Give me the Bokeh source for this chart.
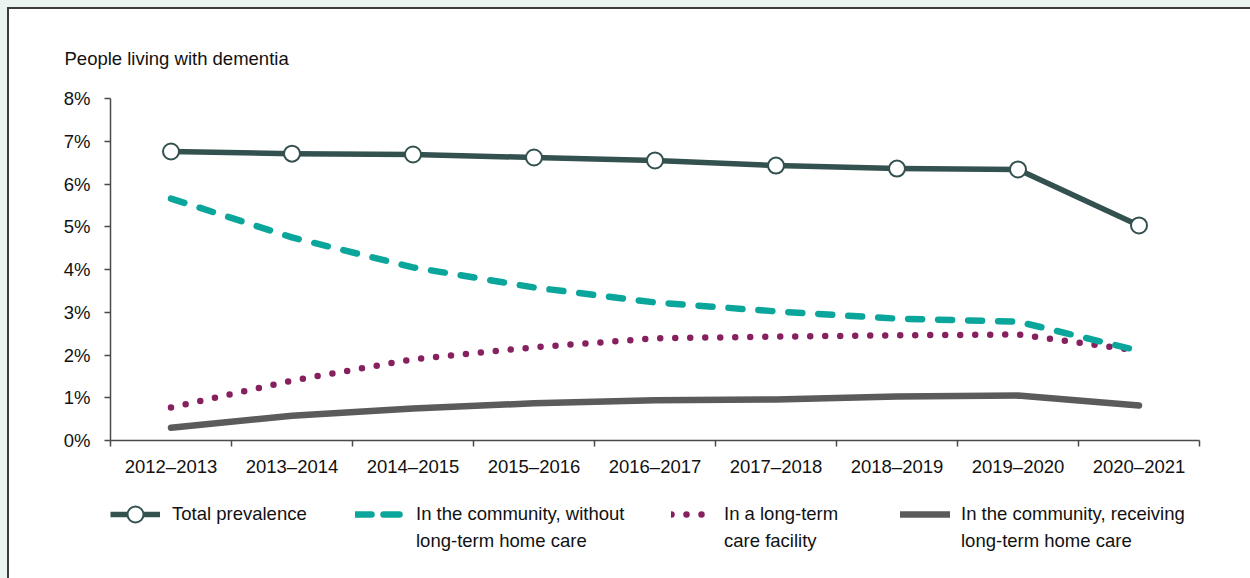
from bokeh.plotting import figure
from bokeh.layouts import column
from bokeh.models import FixedTicker, Range1d, Legend, LegendItem, ColumnDataSource
from bokeh.embed import file_html
from bokeh.resources import INLINE

years = ["2012–2013", "2013–2014", "2014–2015", "2015–2016", "2016–2017",
         "2017–2018", "2018–2019", "2019–2020", "2020–2021"]
total = [6.76, 6.71, 6.69, 6.62, 6.55, 6.43, 6.36, 6.34, 5.03]
community_no_care = [5.66, 4.75, 4.05, 3.58, 3.23, 3.02, 2.85, 2.78, 2.10]
ltc_facility = [0.77, 1.40, 1.90, 2.18, 2.39, 2.43, 2.46, 2.48, 2.10]
community_home_care = [0.30, 0.58, 0.75, 0.87, 0.94, 0.96, 1.03, 1.05, 0.82]
y_ticks = [0, 1, 2, 3, 4, 5, 6, 7, 8]
y_tick_labels = ["0%", "1%", "2%", "3%", "4%", "5%", "6%", "7%", "8%"]
series_names = [["Total prevalence"],
                ["In the community, without", "long-term home care"],
                ["In a long-term", "care facility"],
                ["In the community, receiving", "long-term home care"]]

FONT = "Liberation Sans"
FS = "18.5px"
C_TOTAL = "#33514f"
C_TEAL = "#0aa69b"
C_PURPLE = "#86205f"
C_GRAY = "#5b5b5b"
AXIS = "#4a4a4a"
TXT = "#111111"

STYLE = {
    "total": dict(line_color=C_TOTAL, line_width=5.5, line_join="round"),
    "comm": dict(line_color=C_TEAL, line_width=6.5, line_cap="round", line_dash="14 16"),
    "ltc": dict(line_color=C_PURPLE, line_width=6.5, line_cap="round", line_dash="0 15"),
    "home": dict(line_color=C_GRAY, line_width=6.5, line_cap="round", line_join="round"),
}
MARK = dict(size=16, fill_color="white", line_color=C_TOTAL, line_width=2)

xs = list(range(len(years)))
src = ColumnDataSource(dict(x=xs, total=total, comm=community_no_care,
                            ltc=ltc_facility, home=community_home_care))

W = 1241
p = figure(width=W, height=481, output_backend="svg", toolbar_location=None,
           x_range=Range1d(-0.5, len(years) - 0.5), y_range=Range1d(0, 8),
           min_border_left=101, min_border_right=51, min_border_top=89,
           min_border_bottom=50)
p.background_fill_color = "white"
p.border_fill_color = "white"
p.outline_line_color = None
p.grid.visible = False

p.title.text = "People living with dementia"
p.title.align = "left"
p.title.offset = -46
p.title.standoff = 59
p.title.text_font = FONT
p.title.text_font_size = FS
p.title.text_font_style = "normal"
p.title.text_color = TXT

# x axis: labels centred on categories, ticks on the boundaries
p.xaxis.ticker = FixedTicker(ticks=xs, minor_ticks=[i - 0.5 for i in range(len(years) + 1)])
p.xaxis.major_label_overrides = {i: y for i, y in enumerate(years)}
p.xaxis.major_tick_out = 0
p.xaxis.major_tick_in = 0
p.xaxis.minor_tick_out = 6
p.xaxis.minor_tick_in = 0
p.xaxis.minor_tick_line_color = AXIS
p.xaxis.minor_tick_line_width = 1.5
p.xaxis.major_label_standoff = 9

# y axis
p.yaxis.ticker = FixedTicker(ticks=y_ticks)
p.yaxis.major_label_overrides = {t: l for t, l in zip(y_ticks, y_tick_labels)}
p.yaxis.major_tick_out = 6
p.yaxis.major_tick_in = 0
p.yaxis.minor_tick_out = 0
p.yaxis.minor_tick_in = 0
p.yaxis.major_label_standoff = 14

for ax in (p.xaxis[0], p.yaxis[0]):
    ax.axis_line_color = AXIS
    ax.axis_line_width = 1.5
    ax.major_tick_line_color = AXIS
    ax.major_tick_line_width = 1.5
    ax.major_label_text_font = FONT
    ax.major_label_text_font_size = FS
    ax.major_label_text_color = TXT

p.line("x", "home", source=src, **STYLE["home"])
p.line("x", "ltc", source=src, **STYLE["ltc"])
p.line("x", "comm", source=src, **STYLE["comm"])
p.line("x", "total", source=src, **STYLE["total"])
p.scatter("x", "total", source=src, **MARK)

# legend strip below the chart (its frame is aligned with the chart frame)
LH = 88
leg = figure(width=W, height=LH, output_backend="svg", toolbar_location=None,
             x_range=Range1d(0, 1), y_range=Range1d(0, 1),
             min_border_left=101, min_border_right=51, min_border_top=0, min_border_bottom=0)
leg.axis.visible = False
leg.grid.visible = False
leg.outline_line_color = None
leg.background_fill_color = "white"
leg.border_fill_color = "white"

nan = float("nan")
holder = ColumnDataSource(dict(x=[nan], y=[nan]))
comm_leg_style = dict(STYLE["comm"], line_dash="16 12")
g_total = [leg.line("x", "y", source=holder, **STYLE["total"]),
           leg.scatter("x", "y", source=holder, **MARK)]
g_comm = [leg.line("x", "y", source=holder, **comm_leg_style)]
g_ltc = [leg.line("x", "y", source=holder, **STYLE["ltc"])]
g_home = [leg.line("x", "y", source=holder, **STYLE["home"])]
g_blank = [leg.line("x", "y", source=holder, line_alpha=0)]

GH = 40          # legend glyph box height (sets marker size)
ROW1, ROW2 = 44, 17   # legend bottoms, px above strip bottom

# (label lines, renderers, x offset from frame left, glyph width, standoff)
entries = [(series_names[0], g_total, 0, 50, 12),
           (series_names[1], g_comm, 245, 50, 11),
           (series_names[2], g_ltc, 561, 34, 19),
           (series_names[3], g_home, 790, 50, 11)]


def add_legend(text, rends, x0, y0, gw, stand):
    lg = Legend(items=[LegendItem(label=text, renderers=rends)], location=(x0, y0))
    lg.glyph_width = gw
    lg.glyph_height = GH
    lg.label_standoff = stand
    lg.padding = 0
    lg.margin = 0
    lg.border_line_color = None
    lg.background_fill_alpha = 0
    lg.label_text_font = FONT
    lg.label_text_font_size = FS
    lg.label_text_color = TXT
    leg.add_layout(lg, "center")


for lines, rends, x0, gw, stand in entries:
    add_legend(lines[0], rends, x0, ROW1, gw, stand)
    if len(lines) > 1:
        add_legend(lines[1], g_blank, x0, ROW2, gw, stand)

layout = column(p, leg, spacing=0)
layout.styles = {"border-left": "2px solid #3c3c3c", "border-top": "2px solid #3c3c3c",
                 "background-color": "white"}

html = file_html(layout, INLINE)
html = html.replace("</head>",
                    "<style>html,body{background:#eaf4f1;overflow:hidden;}"
                    "body{margin:7px 0 0 7px !important;}</style></head>", 1)
open("out.html", "w").write(html)
